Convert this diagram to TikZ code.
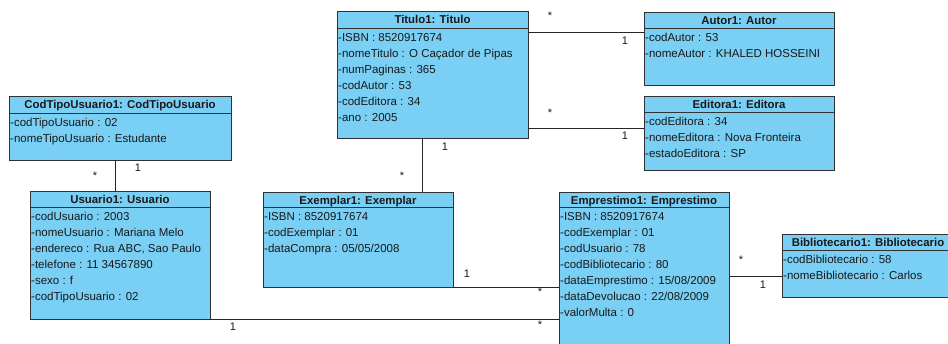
\documentclass[tikz,border=0pt]{standalone}
\usepackage{fontspec}
\setmainfont{Liberation Sans}
\usetikzlibrary{calc}
\definecolor{objfill}{RGB}{122,207,245}
\definecolor{objedge}{RGB}{50,50,50}
\definecolor{ink}{RGB}{25,25,25}

% object box: name, left, top, right, bottom, header bottom, title, list of attributes
\newcommand\umlobj[8]{%
  \pgfmathsetmacro\objw{#4-#2}%
  \pgfmathsetmacro\objh{#5-#3}%
  \pgfmathsetmacro\objhh{#6-#3}%
  \node[objbox, minimum width=\objw pt, minimum height=\objh pt] (#1) at ({(#2+#4)/2},{(#3+#5)/2}) {};
  \draw[objsep] ($(#1.north west)+(0,\objhh)$) -- ($(#1.north east)+(0,\objhh)$);
  \node[objtitle] (#1-title) at ($(#1.north)+(0,13)$) {#7};
  \foreach \a [count=\i] in {#8} {%
    \node[objattr] (#1-a\i) at ($(#1.north west)+(1,{\objhh+13.3+16*(\i-1)})$) {\a};
  }%
}

\begin{document}
\begin{tikzpicture}[x=1pt, y=-1pt,
  objbox/.style={draw=objedge, fill=objfill, line width=0.9pt, inner sep=0pt, outer sep=0pt},
  objsep/.style={draw=objedge, line width=0.9pt},
  objtitle/.style={anchor=base, inner sep=0pt, text=ink, font=\fontsize{11.4}{14}\selectfont\bfseries},
  objattr/.style={anchor=base west, inner sep=0pt, text=ink, font=\fontsize{11.5}{16}\selectfont},
  assoc/.style={draw=black!85, line width=0.9pt},
  mult/.style={inner sep=0pt, text=ink, font=\fontsize{11}{13}\selectfont}]
\clip (0,0) rectangle (948,344);
\fill[white] (0,0) rectangle (948,344);

\umlobj{titulo}{337}{11}{528}{138}{28}{Titulo1: Titulo}
  {-ISBN : 8520917674, -nomeTitulo : O Caçador de Pipas, -numPaginas : 365,
   -codAutor : 53, -codEditora : 34, -ano : 2005}
\umlobj{autor}{644}{12}{834}{85}{28}{Autor1: Autor}
  {-codAutor : 53, -nomeAutor : KHALED HOSSEINI}
\umlobj{editora}{644}{96}{834}{170}{112}{Editora1: Editora}
  {-codEditora : 34, -nomeEditora : Nova Fronteira, -estadoEditora : SP}
\umlobj{codtipo}{9}{96}{231}{160}{113}{CodTipoUsuario1: CodTipoUsuario}
  {-codTipoUsuario : 02, -nomeTipoUsuario : Estudante}
\umlobj{usuario}{30}{191}{210}{319}{207}{Usuario1: Usuario}
  {-codUsuario : 2003, -nomeUsuario : Mariana Melo, {-endereco : Rua ABC, Sao Paulo},
   -telefone : 11 34567890, -sexo : f, -codTipoUsuario : 02}
\umlobj{exemplar}{263}{192}{453}{287}{207}{Exemplar1: Exemplar}
  {-ISBN : 8520917674, -codExemplar : 01, -dataCompra : 05/05/2008}
\umlobj{emprestimo}{559}{192}{729}{372}{207}{Emprestimo1: Emprestimo}
  {-ISBN : 8520917674, -codExemplar : 01, -codUsuario : 78, -codBibliotecario : 80,
   -dataEmprestimo : 15/08/2009, -dataDevolucao : 22/08/2009, -valorMulta : 0}
\umlobj{biblio}{782}{234}{954}{297}{250}{Bibliotecario1: Bibliotecario}
  {-codBibliotecario : 58, -nomeBibliotecario : Carlos}

% Titulo -- Autor
\coordinate (ta) at ($(titulo.north east)+(0,21)$);
\coordinate (tb) at (ta -| autor.west);
\draw[assoc] (ta) -- (tb);
\node[mult] (ta-m) at ($(ta)+(22,-16)$) {*};
\node[mult] (tb-m) at ($(tb)+(-19,9)$) {1};

% Titulo -- Editora
\coordinate (te) at ($(titulo.north east)+(0,117)$);
\coordinate (tf) at (te -| editora.west);
\draw[assoc] (te) -- (tf);
\node[mult] (te-m) at ($(te)+(22,-15)$) {*};
\node[mult] (tf-m) at ($(tf)+(-19,8)$) {1};

% Titulo -- Exemplar
\coordinate (tx) at ($(titulo.south west)+(85,0)$);
\coordinate (ex) at (tx |- exemplar.north);
\draw[assoc] (tx) -- (ex);
\node[mult] (tx-m) at ($(tx)+(23,9)$) {1};
\node[mult] (ex-m) at ($(ex)+(-20,-16)$) {*};

% CodTipoUsuario -- Usuario
\coordinate (cu) at ($(codtipo.south west)+(106,0)$);
\coordinate (uc) at (cu |- usuario.north);
\draw[assoc] (cu) -- (uc);
\node[mult] (cu-m) at ($(cu)+(23,8)$) {1};
\node[mult] (uc-m) at ($(uc)+(-20,-15)$) {*};

% Exemplar -- Emprestimo
\coordinate (xe) at (exemplar.south east);
\coordinate (ey) at (xe -| emprestimo.west);
\draw[assoc] (xe) -- (ey);
\node[mult] (xe-m) at ($(xe)+(14,-13)$) {1};
\node[mult] (ey-m) at ($(ey)+(-19,5)$) {*};

% Usuario -- Emprestimo
\coordinate (ue) at (usuario.south east);
\coordinate (eu) at (ue -| emprestimo.west);
\draw[assoc] (ue) -- (eu);
\node[mult] (ue-m) at ($(ue)+(23,8)$) {1};
\node[mult] (eu-m) at ($(eu)+(-19,6)$) {*};

% Emprestimo -- Bibliotecario
\coordinate (eb) at ($(emprestimo.north east)+(0,84)$);
\coordinate (be) at (eb -| biblio.west);
\draw[assoc] (eb) -- (be);
\node[mult] (eb-m) at ($(eb)+(12,-16)$) {*};
\node[mult] (be-m) at ($(be)+(-19,9)$) {1};
\end{tikzpicture}
\end{document}
